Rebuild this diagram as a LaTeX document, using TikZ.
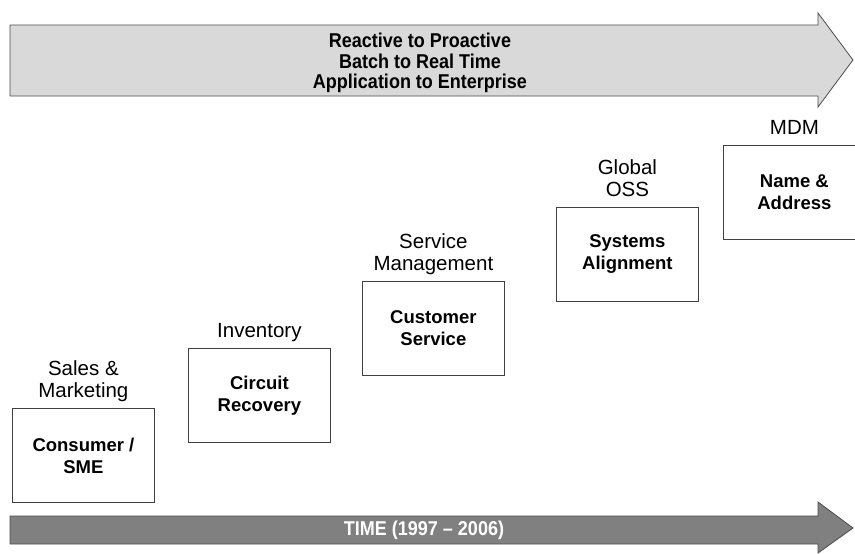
\documentclass[tikz,border=0pt]{standalone}
\usepackage{fontspec}
\setmainfont{Liberation Sans}
\newfontfamily\narrowbold[FakeStretch=0.9]{Liberation Sans Bold}
\begin{document}
\begin{tikzpicture}[x=1pt,y=-1pt,
  stagebox/.style={draw=black!75,line width=0.8pt,fill=white,minimum width=142pt,minimum height=94pt,align=center,font=\fontsize{18.5}{22}\selectfont\bfseries,anchor=north west,inner sep=0pt},
  arealabel/.style={align=center,font=\fontsize{20.5}{22}\selectfont,anchor=south,inner sep=0pt,text depth=0pt},
  bigarrow/.style={draw=black!70,line width=0.8pt}]
\useasboundingbox (0,0) rectangle (855,554);
\clip (0,0) rectangle (855,554);
% top arrow
\draw[bigarrow,fill=black!15] (10,25) -- (818,25) -- (818,13) -- (853,60) -- (818,107) -- (818,96) -- (10,96) -- cycle;
\node[align=center,font=\narrowbold\fontsize{20}{20.5}\selectfont] (top) at (420,63) {Reactive to Proactive\\Batch to Real Time\\Application to Enterprise};
% bottom arrow
\draw[bigarrow,fill=black!50] (10,516) -- (818,516) -- (818,502) -- (853,528) -- (818,553) -- (818,544) -- (10,544) -- cycle;
\node[font=\narrowbold\fontsize{20}{22}\selectfont,text=white] (time) at (424,530) {TIME (1997 \textendash\ 2006)};
% boxes
\node[stagebox] (b1) at (12,408) {Consumer /\\SME};
\node[stagebox] (b2) at (188,348) {Circuit\\Recovery};
\node[stagebox] (b3) at (362,281) {Customer\\Service};
\node[stagebox] (b4) at (556,207) {Systems\\Alignment};
\node[stagebox] (b5) at (723,145) {Name \&\\Address};
% labels
\node[arealabel] (l1) at ([yshift=10pt]b1.north) {Sales \&\\Marketing};
\node[arealabel] (l2) at ([yshift=10pt]b2.north) {Inventory};
\node[arealabel] (l3) at ([yshift=10pt]b3.north) {Service\\Management};
\node[arealabel] (l4) at ([yshift=10pt]b4.north) {Global\\OSS};
\node[arealabel] (l5) at ([yshift=10pt]b5.north) {MDM};
\end{tikzpicture}
\end{document}
